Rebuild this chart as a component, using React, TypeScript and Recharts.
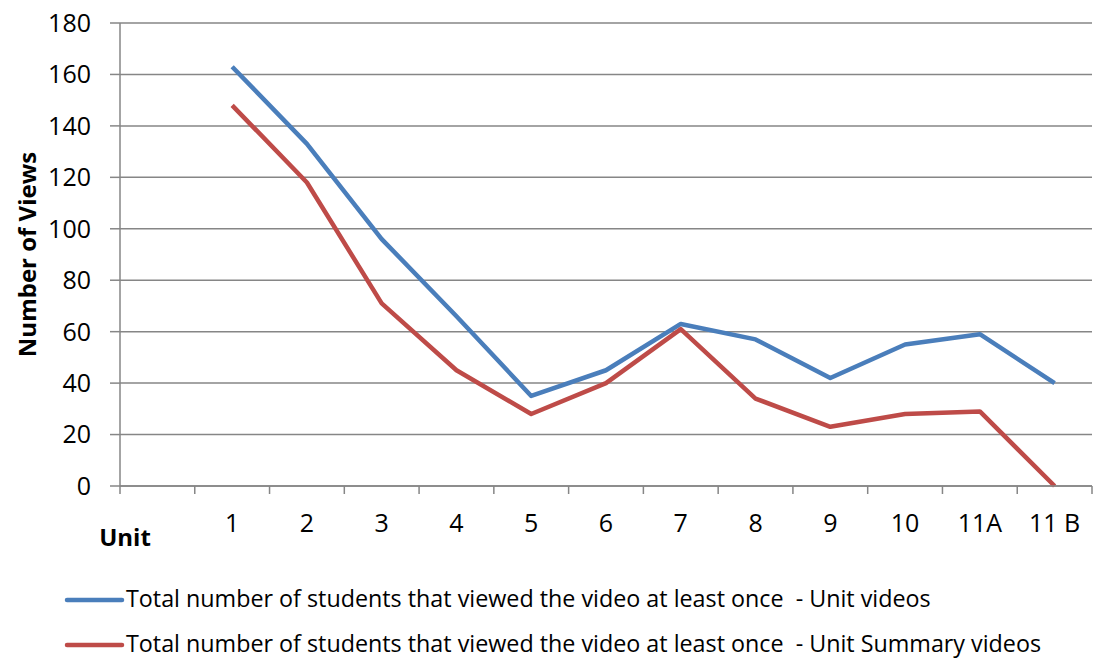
import React from 'react';
import { LineChart, Line, XAxis, YAxis, CartesianGrid, Legend } from 'recharts';

const categories = ['', '1', '2', '3', '4', '5', '6', '7', '8', '9', '10', '11A', '11 B'];
const unitVideos = [null, 163, 133, 96, 66, 35, 45, 63, 57, 42, 55, 59, 40];
const summaryVideos = [null, 148, 118, 71, 45, 28, 40, 61, 34, 23, 28, 29, 0];
const yTicks = [0, 20, 40, 60, 80, 100, 120, 140, 160, 180];
const seriesNames = [
  'Total number of students that viewed the video at least once  - Unit videos',
  'Total number of students that viewed the video at least once  - Unit Summary videos',
];
const xTitle = 'Unit';
const yTitle = 'Number of Views';

const data = categories.map((c, i) => ({ cat: c, unit: unitVideos[i], summary: summaryVideos[i] }));

const W = 1095;
const H = 658;
const PLOT_LEFT = 120;
const PLOT_RIGHT = 1092;
const PLOT_TOP = 23;
const PLOT_BOTTOM = 486;
const BAND = (PLOT_RIGHT - PLOT_LEFT) / categories.length;
const FONT = '"Open Sans", sans-serif';
const GRID = '#868686';
const BLUE = '#4A7EBB';
const RED = '#BE4B48';

const XTick = (props: any) => {
  const { x, payload, index } = props;
  const last = index === categories.length - 1;
  return (
    <g>
      <line x1={x - BAND / 2} x2={x - BAND / 2} y1={PLOT_BOTTOM} y2={PLOT_BOTTOM + 8} stroke={GRID} strokeWidth={1.5} />
      {last && <line x1={x + BAND / 2} x2={x + BAND / 2} y1={PLOT_BOTTOM} y2={PLOT_BOTTOM + 8} stroke={GRID} strokeWidth={1.5} />}
      <text x={x} y={PLOT_BOTTOM + 46} textAnchor="middle" fontFamily={FONT} fontSize={25} fill="#000">
        {payload.value}
      </text>
    </g>
  );
};

const renderLegend = (props: any) => {
  const payload = [...(props.payload || [])].sort(
    (a: any, b: any) => seriesNames.indexOf(a.value) - seriesNames.indexOf(b.value)
  );
  return (
    <svg width={W} height={83} style={{ overflow: 'visible', display: 'block' }}>
      {payload.map((p: any, i: number) => (
        <g key={i}>
          <line x1={67} x2={122} y1={25 + i * 45} y2={25 + i * 45} stroke={p.color} strokeWidth={4.5} strokeLinecap="round" />
          <text x={126} y={32 + i * 45} fontFamily={FONT} fontSize={23.3} fill="#000" style={{ whiteSpace: 'pre' }}>
            {p.value}
          </text>
        </g>
      ))}
    </svg>
  );
};

export default function App() {
  return (
    <div style={{ position: 'absolute', left: 0, top: 0, width: W, height: H, background: '#fff' }}>
      <LineChart
        width={W}
        height={H}
        data={data}
        margin={{ top: PLOT_TOP, right: W - PLOT_RIGHT, left: 0, bottom: 0 }}
      >
        <CartesianGrid horizontal vertical={false} stroke={GRID} strokeWidth={1.5} />
        <XAxis
          dataKey="cat"
          scale="band"
          height={H - PLOT_BOTTOM}
          interval={0}
          tickLine={false}
          tickSize={0}
          tickMargin={0}
          axisLine={{ stroke: GRID, strokeWidth: 1.5 }}
          tick={<XTick />}
          label={{
            content: () => (
              <text x={125} y={546} textAnchor="middle" fontFamily={FONT} fontSize={24} fontWeight="bold" fill="#000">
                {xTitle}
              </text>
            ),
          }}
        />
        <YAxis
          width={PLOT_LEFT}
          domain={[0, 180]}
          ticks={yTicks}
          interval={0}
          tickSize={10}
          tickMargin={19}
          axisLine={{ stroke: GRID, strokeWidth: 1.5 }}
          tickLine={{ stroke: GRID, strokeWidth: 1.5 }}
          tick={{ fontFamily: FONT, fontSize: 25, fill: '#000' }}
          label={{
            content: () => (
              <text
                x={0}
                y={0}
                transform={`translate(36, ${(PLOT_TOP + PLOT_BOTTOM) / 2}) rotate(-90)`}
                textAnchor="middle"
                fontFamily={FONT}
                fontSize={24}
                fontWeight="bold"
                fill="#000"
              >
                {yTitle}
              </text>
            ),
          }}
        />
        <Line
          type="linear"
          dataKey="unit"
          name={seriesNames[0]}
          stroke={BLUE}
          strokeWidth={4.5}
          strokeLinejoin="round"
          dot={false}
          activeDot={false}
          isAnimationActive={false}
        />
        <Line
          type="linear"
          dataKey="summary"
          name={seriesNames[1]}
          stroke={RED}
          strokeWidth={4.5}
          strokeLinejoin="round"
          dot={false}
          activeDot={false}
          isAnimationActive={false}
        />
        <Legend
          layout="vertical"
          align="center"
          verticalAlign="middle"
          wrapperStyle={{ position: 'absolute', left: 0, top: 575, width: W, height: 83 }}
          content={renderLegend}
        />
      </LineChart>
    </div>
  );
}
